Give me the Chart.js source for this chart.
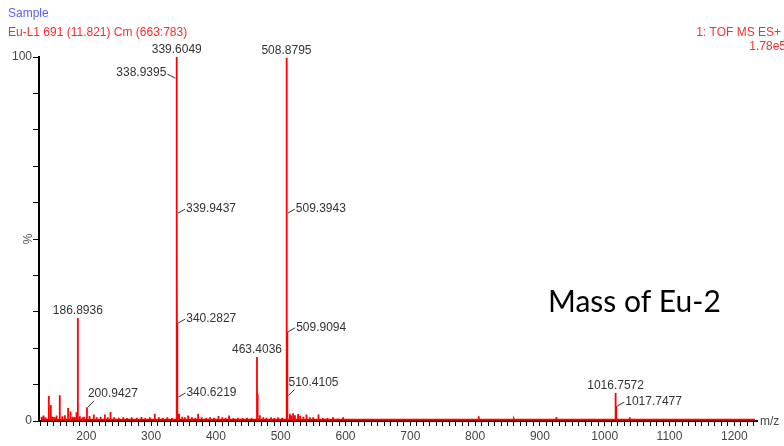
<!DOCTYPE html>
<html>
<head>
<meta charset="utf-8">
<script src="https://cdn.jsdelivr.net/npm/chart.js@4.4.1/dist/chart.umd.min.js"></script>
<style>
  html, body { margin: 0; padding: 0; background: #fff; }
  #wrap { position: relative; width: 784px; height: 446px; }
</style>
</head>
<body>
<div id="wrap"><canvas id="spec" width="784" height="446"></canvas></div>
<script>
// Labelled peaks: m/z and relative intensity (%)
const labelledMz  = [186.8936, 200.9427, 338.9395, 339.6049, 339.9437, 340.2827, 340.6219,
                     463.4036, 508.8795, 509.3943, 509.9094, 510.4105, 1016.7572, 1017.7477];
const labelledPct = [28.3, 3.8, 94.2, 100, 57.1, 26.9, 6.6,
                     17.6, 99.8, 57.1, 24.5, 7.0, 7.7, 4.1];
// where each peak label sits relative to its peak
const labelSide   = ['top', 'up', 'left', 'top', 'right', 'right', 'right',
                     'top', 'top', 'right', 'right', 'up', 'top', 'right'];

// Unlabelled minor peaks and baseline noise
const minorMz  = [131, 134, 137, 142.1, 145.2, 148, 151, 154, 159, 163, 167, 171.9, 175.6, 179, 182,
                  184.8, 190, 194, 197, 205, 211.5, 216, 222, 228.5, 233, 237.3, 243, 250, 257, 263,
                  270, 278, 285, 291, 298, 305.6, 312, 318, 325, 332, 343.2, 348, 352, 357.1, 363,
                  368, 372.5, 378, 385, 391, 397, 403.9, 410, 415, 420.3, 427, 434, 441, 448, 455,
                  464.4, 467.7, 473, 478, 485, 490, 496, 502, 514, 516, 519.1, 522, 526.8, 530, 535,
                  539.7, 545, 550, 558.3, 565, 572, 580.8, 588, 596.2, 620, 650, 700, 750, 805.6,
                  860, 925.5, 980, 1038.7, 1100, 1180];
const minorPct = [1.2, 1.5, 1.0, 6.9, 4.4, 1.2, 1.0, 1.5, 7.1, 1.3, 1.6, 3.6, 2.6, 1.2, 1.0,
                  2.4, 1.3, 1.0, 1.2, 1.4, 1.8, 1.0, 1.2, 1.8, 1.0, 2.5, 1.0, 0.9, 1.0, 0.8,
                  1.0, 0.9, 1.1, 0.8, 1.0, 2.0, 1.0, 0.8, 1.0, 0.8, 2.0, 1.2, 1.0, 1.5, 1.0,
                  0.9, 2.0, 1.0, 0.8, 1.0, 0.9, 1.4, 1.0, 0.9, 1.5, 0.8, 0.9, 0.8, 0.9, 0.8,
                  7.5, 1.6, 1.0, 0.9, 1.0, 0.8, 1.0, 0.9, 2.0, 1.5, 2.1, 1.6, 1.9, 1.4, 1.2,
                  1.8, 1.0, 1.0, 1.8, 0.8, 0.8, 1.0, 0.7, 1.0, 0.5, 0.5, 0.4, 0.4, 1.3,
                  0.4, 1.1, 0.4, 1.0, 0.4, 0.4];
const baselinePct = 0.35;

// Axis range and labelled ticks
const mzRange = [127, 1235];
const xTickLabels = [200, 300, 400, 500, 600, 700, 800, 900, 1000, 1100, 1200];
const yTickLabels = [0, 100];

// Build the stick spectrum as a profile line
const sticks = labelledMz.map((m, i) => ({ m, h: labelledPct[i] }))
  .concat(minorMz.map((m, i) => ({ m, h: minorPct[i] })))
  .sort((a, b) => a.m - b.m);
const half = 0.12;
const profile = [{ x: 130, y: baselinePct }];
sticks.forEach(s => {
  profile.push({ x: s.m - half, y: baselinePct }, { x: s.m, y: s.h }, { x: s.m + half, y: baselinePct });
});
profile.push({ x: 1232, y: baselinePct });

const FONT = '"Liberation Sans", Arial, sans-serif';

// Peak annotations with leader lines
const peakLabels = {
  id: 'peakLabels',
  afterDatasetsDraw(chart) {
    const { ctx, scales: { x, y } } = chart;
    ctx.save();
    ctx.font = '12px ' + FONT;
    ctx.fillStyle = '#333';
    ctx.strokeStyle = '#333';
    ctx.lineWidth = 1;
    labelledMz.forEach((m, i) => {
      const px = x.getPixelForValue(m);
      const py = y.getPixelForValue(labelledPct[i]);
      const txt = m.toFixed(4);
      ctx.textBaseline = 'middle';
      const leader = (x0, y0, x1, y1) => {
        ctx.beginPath(); ctx.moveTo(x0, y0); ctx.lineTo(x1, y1); ctx.stroke();
      };
      if (labelSide[i] === 'top') {
        ctx.textAlign = 'center';
        ctx.fillText(txt, px, py - 7);
      } else if (labelSide[i] === 'right') {
        leader(px + 1, py, px + 8, py - 4);
        ctx.textAlign = 'left';
        ctx.fillText(txt, px + 9, py - 4);
      } else if (labelSide[i] === 'left') {
        leader(px - 1, py, px - 9, py - 4);
        ctx.textAlign = 'right';
        ctx.fillText(txt, px - 10, py - 5);
      } else {
        leader(px + 1, py, px + 7, py - 6);
        ctx.textAlign = 'left';
        ctx.fillText(txt, px + 1, py - 13);
      }
    });
    ctx.restore();
  }
};

// Header lines, axis unit and caption
const headerText = {
  id: 'headerText',
  afterDraw(chart) {
    const { ctx, chartArea } = chart;
    ctx.save();
    ctx.textBaseline = 'middle';
    ctx.font = '12px ' + FONT;
    ctx.textAlign = 'left';
    ctx.fillStyle = '#5a5aff';
    ctx.fillText('Sample', 8, 14);
    ctx.fillStyle = '#ff2a2a';
    ctx.fillText('Eu-L1 691 (11.821) Cm (663:783)', 8, 33);
    ctx.textAlign = 'right';
    ctx.fillText('1: TOF MS ES+', 781, 33);
    ctx.fillText('1.78e5', 786, 47);
    ctx.textAlign = 'left';
    ctx.fillStyle = '#444';
    ctx.fillText('m/z', chartArea.right + 3, chartArea.bottom + 1);
    ctx.fillStyle = '#000';
    ctx.font = '30px Lato, "Open Sans", sans-serif';
    ctx.fillText('Mass of Eu-2', 548, 302);
    ctx.restore();
  }
};

new Chart(document.getElementById('spec'), {
  type: 'line',
  data: {
    datasets: [{
      data: profile,
      borderColor: '#ff0000',
      borderWidth: 1.8,
      pointRadius: 0,
      tension: 0,
      fill: false
    }]
  },
  options: {
    responsive: false,
    animation: false,
    devicePixelRatio: 1,
    layout: { padding: { top: 57, right: 27, left: 0, bottom: 0 } },
    plugins: { legend: { display: false }, tooltip: { enabled: false } },
    scales: {
      x: {
        type: 'linear',
        min: mzRange[0],
        max: mzRange[1],
        afterFit(scale) { scale.height = 25; },
        border: { display: true, color: '#000', width: 2 },
        grid: { drawOnChartArea: false, drawTicks: true, tickLength: 5, tickColor: '#000', lineWidth: 1 },
        ticks: {
          stepSize: 10,
          includeBounds: false,
          autoSkip: false,
          maxRotation: 0,
          padding: 3,
          color: '#444',
          font: { family: FONT, size: 12 },
          callback: v => (xTickLabels.includes(v) ? String(v) : '')
        }
      },
      y: {
        type: 'linear',
        min: 0,
        max: 100,
        afterFit(scale) { scale.width = 39; },
        border: { display: true, color: '#000', width: 2 },
        grid: { drawOnChartArea: false, drawTicks: true, tickLength: 6, tickColor: '#000', lineWidth: 1 },
        title: {
          display: true,
          text: '%',
          color: '#555',
          font: { family: FONT, size: 12 },
          padding: { top: 21, bottom: 0 }
        },
        ticks: {
          stepSize: 10,
          autoSkip: false,
          padding: 1,
          color: '#444',
          font: { family: FONT, size: 12 },
          callback: v => (yTickLabels.includes(v) ? String(v) : '')
        }
      }
    }
  },
  plugins: [peakLabels, headerText]
});
</script>
</body>
</html>
